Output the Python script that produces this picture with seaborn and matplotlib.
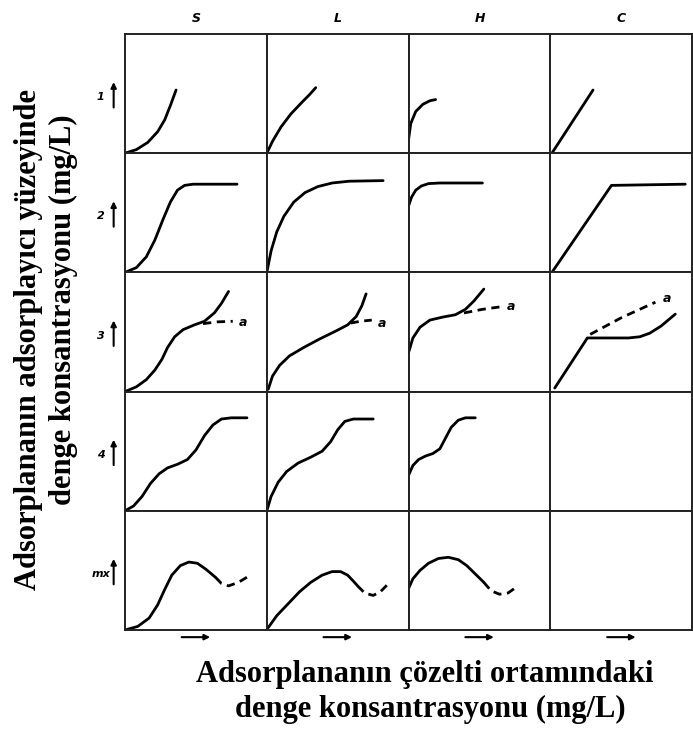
import matplotlib
matplotlib.use("Agg")
import matplotlib.pyplot as plt
import seaborn as sns
import pandas as pd

sns.set_theme(style="white")
plt.rcParams['font.family'] = ['Liberation Serif', 'DejaVu Serif']
plt.rcParams['text.color'] = 'black'

# ---- labels ----
col_labels = ["S", "L", "H", "C"]
row_labels = ["1", "2", "3", "4", "mx"]
ylabel_lines = ["Adsorplananın adsorplayıcı yüzeyinde", "denge konsantrasyonu (mg/L)"]
xlabel_lines = ["Adsorplananın çözelti ortamındaki", "denge konsantrasyonu (mg/L)"]

# ---- curve data (cell-normalised coordinates) ----
# row 1
S1_x = [0.0, 0.08, 0.16, 0.23, 0.28, 0.32, 0.36]
S1_y = [0.0, 0.03, 0.09, 0.18, 0.28, 0.40, 0.53]
L1_x = [0.0, 0.04, 0.10, 0.17, 0.25, 0.30, 0.345]
L1_y = [0.0, 0.10, 0.22, 0.33, 0.43, 0.49, 0.55]
H1_x = [0.0, 0.015, 0.05, 0.10, 0.15, 0.19]
H1_y = [0.12, 0.25, 0.35, 0.41, 0.44, 0.45]
C1_x = [0.01, 0.30]
C1_y = [0.0, 0.53]
# row 2
S2_x = [0.0, 0.08, 0.15, 0.21, 0.27, 0.32, 0.37, 0.42, 0.48, 0.55, 0.79]
S2_y = [0.0, 0.04, 0.13, 0.27, 0.45, 0.59, 0.69, 0.73, 0.74, 0.74, 0.74]
L2_x = [0.0, 0.03, 0.07, 0.12, 0.19, 0.27, 0.36, 0.46, 0.58, 0.82]
L2_y = [0.0, 0.18, 0.34, 0.47, 0.59, 0.67, 0.72, 0.75, 0.765, 0.77]
H2_x = [0.0, 0.02, 0.05, 0.09, 0.14, 0.22, 0.32, 0.52]
H2_y = [0.56, 0.63, 0.69, 0.725, 0.745, 0.75, 0.75, 0.75]
C2_x = [0.01, 0.43, 0.95]
C2_y = [0.0, 0.73, 0.74]
# row 3
S3_x = [0.0, 0.08, 0.15, 0.21, 0.26, 0.30, 0.35, 0.41, 0.49, 0.56, 0.63, 0.68, 0.73]
S3_y = [0.0, 0.04, 0.10, 0.18, 0.27, 0.37, 0.46, 0.52, 0.56, 0.59, 0.66, 0.74, 0.84]
S3a_x = [0.55, 0.65, 0.76]
S3a_y = [0.57, 0.585, 0.59]
L3_x = [0.01, 0.04, 0.09, 0.16, 0.26, 0.37, 0.49, 0.57, 0.63, 0.67, 0.70]
L3_y = [0.02, 0.13, 0.22, 0.30, 0.37, 0.44, 0.51, 0.56, 0.63, 0.72, 0.82]
L3a_x = [0.59, 0.66, 0.74]
L3a_y = [0.575, 0.59, 0.60]
H3_x = [0.0, 0.03, 0.08, 0.15, 0.24, 0.33, 0.40, 0.46, 0.53]
H3_y = [0.33, 0.45, 0.54, 0.60, 0.625, 0.645, 0.69, 0.76, 0.86]
H3a_x = [0.39, 0.52, 0.64]
H3a_y = [0.66, 0.69, 0.71]
C3_x = [0.03, 0.26, 0.40, 0.55, 0.63, 0.70, 0.78, 0.88]
C3_y = [0.03, 0.45, 0.45, 0.45, 0.46, 0.49, 0.55, 0.65]
C3a_x = [0.28, 0.50, 0.74]
C3a_y = [0.48, 0.62, 0.75]
# row 4
S4_x = [0.0, 0.06, 0.12, 0.18, 0.24, 0.30, 0.37, 0.44, 0.50, 0.56, 0.62, 0.68, 0.75, 0.86]
S4_y = [0.0, 0.04, 0.12, 0.23, 0.31, 0.36, 0.39, 0.43, 0.51, 0.63, 0.72, 0.77, 0.78, 0.78]
L4_x = [0.0, 0.03, 0.08, 0.14, 0.22, 0.31, 0.39, 0.45, 0.50, 0.55, 0.61, 0.75]
L4_y = [0.0, 0.12, 0.24, 0.33, 0.40, 0.45, 0.50, 0.58, 0.68, 0.75, 0.77, 0.77]
H4_x = [0.0, 0.03, 0.07, 0.12, 0.17, 0.22, 0.26, 0.30, 0.35, 0.40, 0.47]
H4_y = [0.30, 0.38, 0.43, 0.46, 0.48, 0.52, 0.61, 0.70, 0.76, 0.78, 0.78]
# row 5 (mx)
S5_x = [0.0, 0.09, 0.17, 0.23, 0.28, 0.33, 0.39, 0.45, 0.51, 0.57, 0.61, 0.64]
S5_y = [0.0, 0.03, 0.10, 0.21, 0.34, 0.46, 0.54, 0.57, 0.56, 0.51, 0.47, 0.44]
S5d_x = [0.64, 0.68, 0.73, 0.80, 0.87]
S5d_y = [0.44, 0.39, 0.37, 0.40, 0.45]
L5_x = [0.01, 0.07, 0.15, 0.23, 0.31, 0.39, 0.46, 0.52, 0.57, 0.61, 0.64]
L5_y = [0.02, 0.12, 0.22, 0.32, 0.40, 0.46, 0.49, 0.49, 0.46, 0.41, 0.37]
L5d_x = [0.64, 0.69, 0.75, 0.80, 0.85]
L5d_y = [0.37, 0.31, 0.29, 0.32, 0.38]
H5_x = [0.0, 0.03, 0.08, 0.14, 0.21, 0.28, 0.35, 0.41, 0.47, 0.53]
H5_y = [0.35, 0.43, 0.50, 0.56, 0.60, 0.61, 0.59, 0.54, 0.47, 0.40]
H5d_x = [0.53, 0.58, 0.64, 0.70, 0.76]
H5d_y = [0.40, 0.33, 0.30, 0.31, 0.36]

# registry: (row, col, x, y, dashed)
curves = [
    (0, 0, S1_x, S1_y, False), (0, 1, L1_x, L1_y, False),
    (0, 2, H1_x, H1_y, False), (0, 3, C1_x, C1_y, False),
    (1, 0, S2_x, S2_y, False), (1, 1, L2_x, L2_y, False),
    (1, 2, H2_x, H2_y, False), (1, 3, C2_x, C2_y, False),
    (2, 0, S3_x, S3_y, False), (2, 0, S3a_x, S3a_y, True),
    (2, 1, L3_x, L3_y, False), (2, 1, L3a_x, L3a_y, True),
    (2, 2, H3_x, H3_y, False), (2, 2, H3a_x, H3a_y, True),
    (2, 3, C3_x, C3_y, False), (2, 3, C3a_x, C3a_y, True),
    (3, 0, S4_x, S4_y, False), (3, 1, L4_x, L4_y, False),
    (3, 2, H4_x, H4_y, False),
    (4, 0, S5_x, S5_y, False), (4, 0, S5d_x, S5d_y, True),
    (4, 1, L5_x, L5_y, False), (4, 1, L5d_x, L5d_y, True),
    (4, 2, H5_x, H5_y, False), (4, 2, H5d_x, H5d_y, True),
]
# 'a' label positions for dashed branches in row 3
a_labels = [(0, 0.80, 0.58), (1, 0.78, 0.575), (2, 0.69, 0.71), (3, 0.79, 0.78)]

W, H = 693, 729
fig = plt.figure(figsize=(W / 100, H / 100), dpi=100)
axes = fig.subplots(5, 4, gridspec_kw=dict(wspace=0, hspace=0))
fig.subplots_adjust(left=125 / W, right=0.999, top=1 - 34 / H, bottom=1 - 630 / H)

for ax in axes.flat:
    ax.set_xlim(0, 1)
    ax.set_ylim(0, 1)
    ax.set_xticks([])
    ax.set_yticks([])
    for sp in ax.spines.values():
        sp.set_color("#222222")
        sp.set_linewidth(1.4)
        sp.set_visible(True)

for r, c, xs, ys, dashed in curves:
    df = pd.DataFrame({"x": xs, "y": ys})
    sns.lineplot(data=df, x="x", y="y", ax=axes[r, c], color="black",
                 sort=False, estimator=None, linewidth=2.0,
                 linestyle=(0, (3, 2)) if dashed else "-")
    axes[r, c].set_xlabel("")
    axes[r, c].set_ylabel("")

for c, x, y in a_labels:
    axes[2, c].text(x, y, "a", fontsize=9, style="italic", fontweight="bold",
                    family="DejaVu Sans", ha="left", va="center", color="black")

# column titles
for c, lab in enumerate(col_labels):
    axes[0, c].text(0.5, 1.13, lab, transform=axes[0, c].transAxes, ha="center",
                    va="center", fontsize=9, style="italic", fontweight="bold",
                    family="DejaVu Sans", color="black")

# row labels with upward arrows
for r, lab in enumerate(row_labels):
    ax = axes[r, 0]
    ax.text(-0.17, 0.47, lab, transform=ax.transAxes, ha="center", va="center",
            fontsize=8, style="italic", fontweight="bold", family="DejaVu Sans",
            color="black")
    ax.annotate("", xy=(-0.08, 0.62), xytext=(-0.08, 0.36),
                xycoords="axes fraction", textcoords="axes fraction",
                arrowprops=dict(arrowstyle="-|>", color="black", lw=1.5,
                                mutation_scale=8), annotation_clip=False)

# bottom arrows
for c in range(4):
    ax = axes[4, c]
    ax.annotate("", xy=(0.62, -0.06), xytext=(0.38, -0.06),
                xycoords="axes fraction", textcoords="axes fraction",
                arrowprops=dict(arrowstyle="-|>", color="black", lw=1.5,
                                mutation_scale=8), annotation_clip=False)

# axis titles
fig.text(29 / W, 1 - 339 / H, ylabel_lines[0], rotation=90, ha="center", va="center",
         fontsize=22, fontweight="bold", color="black")
fig.text(63 / W, 1 - 310 / H, ylabel_lines[1], rotation=90, ha="center", va="center",
         fontsize=22, fontweight="bold", color="black")
fig.text(425 / W, 1 - 682 / H, xlabel_lines[0], ha="center", va="baseline",
         fontsize=22, fontweight="bold", color="black")
fig.text(430 / W, 1 - 717 / H, xlabel_lines[1], ha="center", va="baseline",
         fontsize=22, fontweight="bold", color="black")

fig.savefig("out.png", dpi=100)
